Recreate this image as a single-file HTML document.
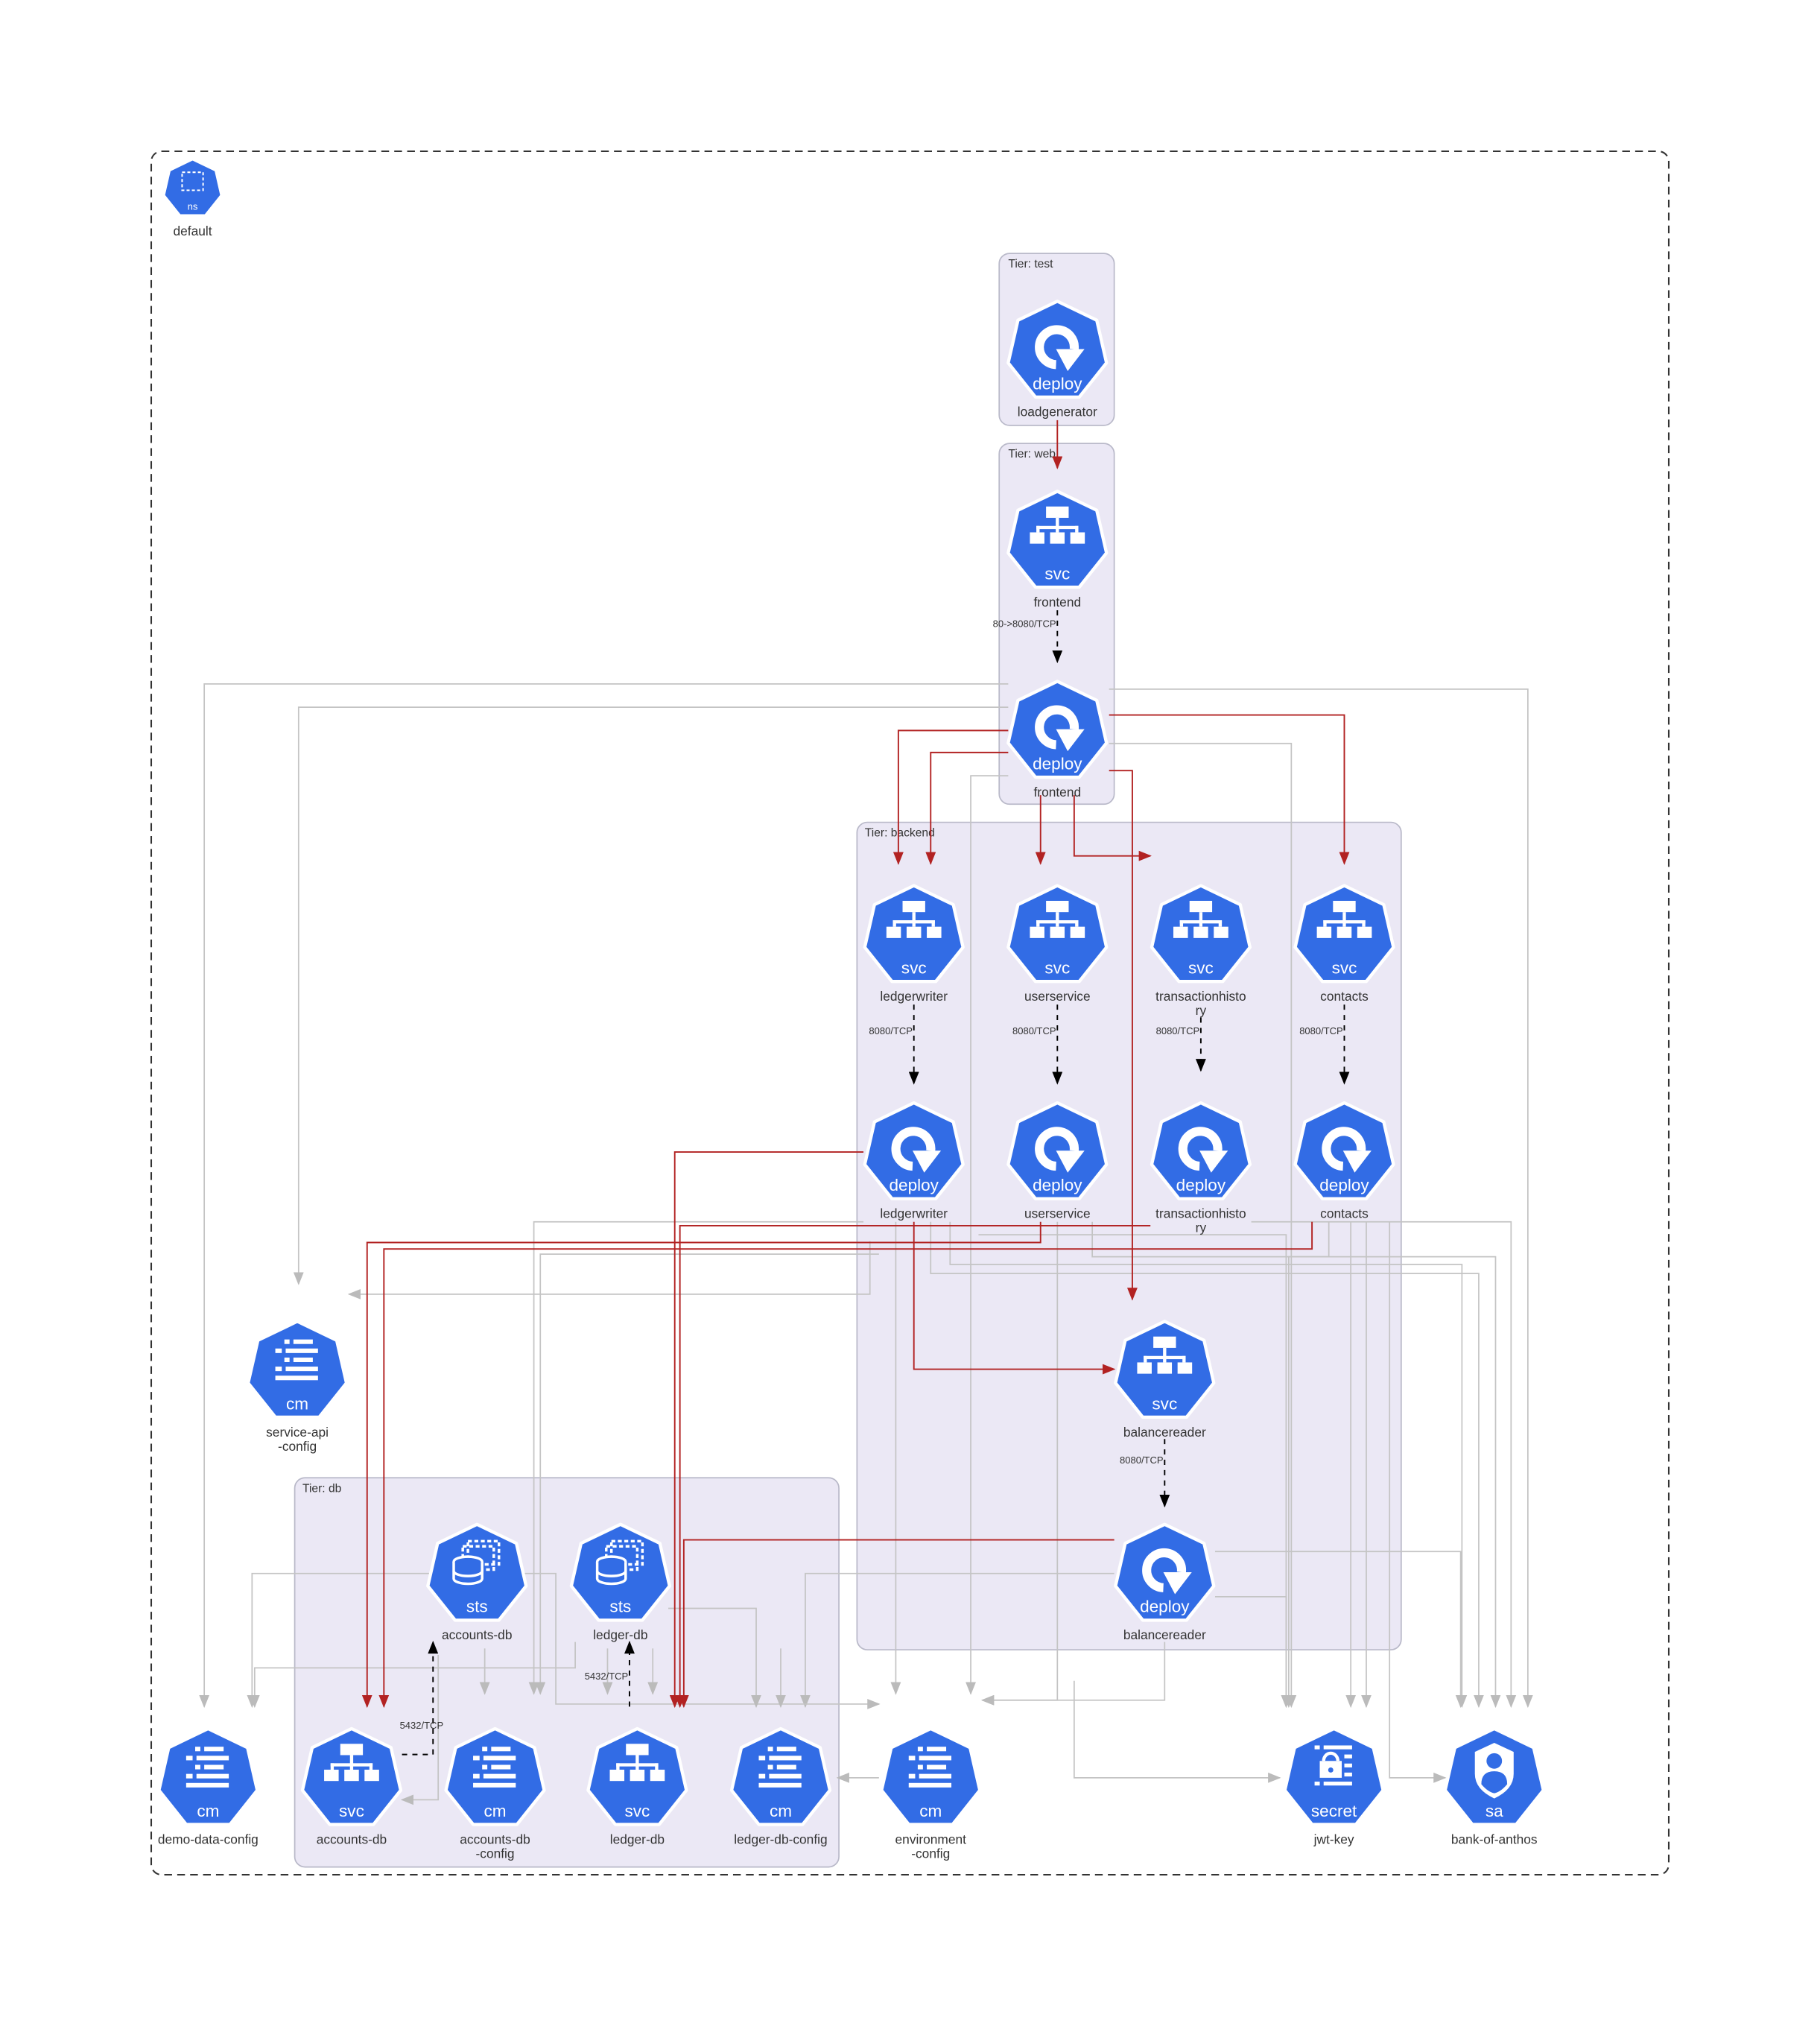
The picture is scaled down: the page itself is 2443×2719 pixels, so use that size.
<!DOCTYPE html>
<html><head><meta charset="utf-8"><style>
html,body{margin:0;padding:0;background:#fff}
svg{display:block}
text{font-family:"Liberation Sans",sans-serif}
</style></head><body>
<svg width="2443" height="2719" viewBox="0 0 1408 1567" preserveAspectRatio="none" xmlns="http://www.w3.org/2000/svg">
<defs>
<polygon id="hep" points="0,-39 30.49,-24.32 38.02,8.68 16.92,35.14 -16.92,35.14 -38.02,8.68 -30.49,-24.32" fill="#326ce5" stroke="#fff" stroke-width="2.5" stroke-linejoin="round"/>
<marker id="ag" markerWidth="10" markerHeight="8" refX="9" refY="4" orient="auto" markerUnits="userSpaceOnUse"><path d="M0,0L10,4L0,8z" fill="#bbb"/></marker>
<marker id="ar" markerWidth="10" markerHeight="8" refX="9" refY="4" orient="auto" markerUnits="userSpaceOnUse"><path d="M0,0L10,4L0,8z" fill="#b22222"/></marker>
<marker id="ab" markerWidth="10" markerHeight="8" refX="9" refY="4" orient="auto" markerUnits="userSpaceOnUse"><path d="M0,0L10,4L0,8z" fill="#000"/></marker>
<g id="deploy"><use href="#hep"/><path d="M-1,10 A13.5,13.5 0 1 1 13,-2" fill="none" stroke="#fff" stroke-width="7"/><path d="M3,-1 L25,-1 L12,16z" fill="#fff" transform="translate(-4,-1)"/><text x="0" y="29" font-size="13" fill="#fff" text-anchor="middle">deploy</text></g>
<g id="svc"><use href="#hep"/><g fill="#fff" transform="translate(0,-6) scale(1.25)"><rect x="-7" y="-17" width="14" height="7"/><rect x="-1" y="-10" width="2" height="6"/><rect x="-13" y="-5" width="26" height="2"/><rect x="-13" y="-5" width="2" height="4"/><rect x="11" y="-5" width="2" height="4"/><rect x="-1" y="-5" width="2" height="4"/><rect x="-17" y="-1" width="9" height="7"/><rect x="-4.5" y="-1" width="9" height="7"/><rect x="8" y="-1" width="9" height="7"/></g><text x="0" y="29" font-size="13" fill="#fff" text-anchor="middle">svc</text></g>
<g id="cm"><use href="#hep"/><g fill="#fff"><rect x="-10" y="-25" width="4" height="3.5"/><rect x="-3" y="-25" width="15" height="3.5"/><rect x="-17" y="-18" width="5" height="3.5"/><rect x="-9" y="-18" width="25" height="3.5"/><rect x="-10" y="-11" width="4" height="3.5"/><rect x="-3" y="-11" width="15" height="3.5"/><rect x="-17" y="-4" width="5" height="3.5"/><rect x="-9" y="-4" width="25" height="3.5"/><rect x="-17" y="3" width="33" height="3.5"/></g><text x="0" y="29" font-size="13" fill="#fff" text-anchor="middle">cm</text></g>
<g id="sts"><use href="#hep"/><g fill="none" stroke="#fff" stroke-width="2"><rect x="-7" y="-26" width="24" height="18" stroke-dasharray="3 2"/><rect x="-11" y="-22" width="24" height="18" stroke-dasharray="3 2"/><ellipse cx="-7" cy="-10" rx="11" ry="4" fill="#326ce5"/><path d="M-18,-10 v13 a11,4 0 0 0 22,0 v-13" fill="#326ce5"/><path d="M-18,-3 a11,4 0 0 0 22,0"/></g><text x="0" y="29" font-size="13" fill="#fff" text-anchor="middle">sts</text></g>
<g id="secret"><use href="#hep"/><g fill="#fff"><rect x="-15" y="-26" width="4" height="3"/><rect x="-8" y="-26" width="22" height="3"/><rect x="8" y="-19" width="6" height="3"/><rect x="8" y="-12" width="6" height="3"/><rect x="8" y="-5" width="6" height="3"/><rect x="-15" y="2" width="4" height="3"/><rect x="-8" y="2" width="22" height="3"/><rect x="-11" y="-14" width="17" height="13"/></g><path d="M-8,-14 a5.5,6 0 0 1 11,0" fill="none" stroke="#fff" stroke-width="2.5"/><circle cx="-2.5" cy="-7" r="2" fill="#326ce5"/><text x="0" y="29" font-size="13" fill="#fff" text-anchor="middle">secret</text></g>
<g id="sa"><use href="#hep"/><path d="M0,-28 L15,-21 L15,-4 Q15,8 0,15 Q-15,8 -15,-4 L-15,-21z" fill="#fff"/><circle cx="0" cy="-14" r="6" fill="#326ce5"/><path d="M-10,4 Q-10,-6 0,-6 Q10,-6 10,4 Q5,10 0,11 Q-5,10 -10,4z" fill="#326ce5"/><text x="0" y="29" font-size="13" fill="#fff" text-anchor="middle">sa</text></g>
</defs>

<rect x="117" y="117" width="1174" height="1333" rx="8" fill="none" stroke="#333" stroke-width="1.2" stroke-dasharray="6 4"/>
<g fill="#ebe8f5" stroke="#b9b9c9" stroke-width="1">
<rect x="773" y="196" width="89" height="133" rx="8"/>
<rect x="773" y="343" width="89" height="279" rx="8"/>
<rect x="663" y="636" width="421" height="640" rx="8"/>
<rect x="228" y="1143" width="421" height="301" rx="8"/>
</g>
<g font-size="9" fill="#333">
<text x="780" y="207">Tier: test</text>
<text x="780" y="354">Tier: web</text>
<text x="669" y="647">Tier: backend</text>
<text x="234" y="1154">Tier: db</text>
</g>

<g fill="none" stroke="#c4c4c4" stroke-width="1" marker-end="url(#ag)">
<path d="M780,529 H158 V1320"/>
<path d="M780,547 H231 V993"/>
<path d="M858,533 H1182 V1320"/>
<path d="M858,575 H999 V1320"/>
<path d="M780,600 H751 V1310"/>
<path d="M673,960 V1001 H270"/>
<path d="M668,945 H413 V1310"/>
<path d="M680,970 H418 V1310"/>
<path d="M693,945 V1310"/>
<path d="M720,945 V985 H1144 V1320"/>
<path d="M735,945 V978 H1131 V1320"/>
<path d="M845,945 V972 H1157 V1320"/>
<path d="M968,945 H1169 V1320"/>
<path d="M1028,945 V972 H997 V1320"/>
<path d="M1045,945 V1320"/>
<path d="M1057,945 V1320"/>
<path d="M818,945 V1315 H760"/>
<path d="M757,955 H995 V1320"/>
<path d="M940,1200 H1130 V1320"/>
<path d="M940,1235 H995 V1320"/>
<path d="M901,1270 V1315 H760"/>
<path d="M862,1217 H623 V1320"/>
<path d="M332,1217 H195 V1320"/>
<path d="M406,1217 H430 V1318 H680"/>
<path d="M375,1275 V1310"/>
<path d="M517,1244 H585 V1320"/>
<path d="M445,1270 V1290 H197 V1320"/>
<path d="M470,1275 V1310"/>
<path d="M505,1275 V1310"/>
<path d="M604,1275 V1320"/>
<path d="M831,1300 V1375 H990"/>
<path d="M1075,945 V1375 H1118"/>
<path d="M680,1375 H648"/>
<path d="M339,1280 V1392 H311"/>
</g>

<g fill="none" stroke="#b22222" stroke-width="1.1" marker-end="url(#ar)">
<path d="M818,325 V362"/>
<path d="M780,565 H695 V668"/>
<path d="M780,582 H720 V668"/>
<path d="M805,615 V668"/>
<path d="M831,615 V662 H890"/>
<path d="M858,553 H1040 V668"/>
<path d="M858,596 H876 V1005"/>
<path d="M668,891 H522 V1320"/>
<path d="M707,945 V1059 H862"/>
<path d="M805,945 V961 H284 V1320"/>
<path d="M1015,945 V966 H297 V1320"/>
<path d="M890,948 H526 V1320"/>
<path d="M862,1191 H529 V1320"/>
</g>

<g fill="none" stroke="#000" stroke-width="1.1" stroke-dasharray="4 4" marker-end="url(#ab)">
<path d="M818,472 V512"/>
<path d="M707,777 V838"/>
<path d="M818,777 V838"/>
<path d="M929,787 V828"/>
<path d="M1040,777 V838"/>
<path d="M901,1113 V1165"/>
<path d="M311,1357 H335 V1270"/>
<path d="M487,1320 V1270"/>
</g>
<g font-size="7.5" fill="#333" text-anchor="end">
<text x="817" y="485">80-&gt;8080/TCP</text>
<text x="706" y="800">8080/TCP</text>
<text x="817" y="800">8080/TCP</text>
<text x="928" y="800">8080/TCP</text>
<text x="1039" y="800">8080/TCP</text>
<text x="900" y="1132">8080/TCP</text>
<text x="343" y="1337">5432/TCP</text>
<text x="486" y="1299">5432/TCP</text>
</g>

<g transform="translate(149,146) scale(0.58)"><use href="#hep"/><rect x="-14" y="-22" width="28" height="24" fill="none" stroke="#fff" stroke-width="2" stroke-dasharray="4 3"/><text x="0" y="28" font-size="13" fill="#fff" text-anchor="middle">ns</text></g>

<use href="#deploy" x="818" y="272"/>
<use href="#svc" x="818" y="419"/>
<use href="#deploy" x="818" y="566"/>
<use href="#svc" x="707" y="724"/>
<use href="#svc" x="818" y="724"/>
<use href="#svc" x="929" y="724"/>
<use href="#svc" x="1040" y="724"/>
<use href="#deploy" x="707" y="892"/>
<use href="#deploy" x="818" y="892"/>
<use href="#deploy" x="929" y="892"/>
<use href="#deploy" x="1040" y="892"/>
<use href="#svc" x="901" y="1061"/>
<use href="#deploy" x="901" y="1218"/>
<use href="#cm" x="230" y="1061"/>
<use href="#sts" x="369" y="1218"/>
<use href="#sts" x="480" y="1218"/>
<use href="#cm" x="161" y="1376"/>
<use href="#svc" x="272" y="1376"/>
<use href="#cm" x="383" y="1376"/>
<use href="#svc" x="493" y="1376"/>
<use href="#cm" x="604" y="1376"/>
<use href="#cm" x="720" y="1376"/>
<use href="#secret" x="1032" y="1376"/>
<use href="#sa" x="1156" y="1376"/>

<g font-size="10" fill="#333" text-anchor="middle">
<text x="149" y="182">default</text>
<text x="818" y="322">loadgenerator</text>
<text x="818" y="469">frontend</text>
<text x="818" y="616">frontend</text>
<text x="707" y="774">ledgerwriter</text>
<text x="818" y="774">userservice</text>
<text x="929" y="774">transactionhisto</text><text x="929" y="785">ry</text>
<text x="1040" y="774">contacts</text>
<text x="707" y="942">ledgerwriter</text>
<text x="818" y="942">userservice</text>
<text x="929" y="942">transactionhisto</text><text x="929" y="953">ry</text>
<text x="1040" y="942">contacts</text>
<text x="901" y="1111">balancereader</text>
<text x="901" y="1268">balancereader</text>
<text x="230" y="1111">service-api</text><text x="230" y="1122">-config</text>
<text x="369" y="1268">accounts-db</text>
<text x="480" y="1268">ledger-db</text>
<text x="161" y="1426">demo-data-config</text>
<text x="272" y="1426">accounts-db</text>
<text x="383" y="1426">accounts-db</text><text x="383" y="1437">-config</text>
<text x="493" y="1426">ledger-db</text>
<text x="604" y="1426">ledger-db-config</text>
<text x="720" y="1426">environment</text><text x="720" y="1437">-config</text>
<text x="1032" y="1426">jwt-key</text>
<text x="1156" y="1426">bank-of-anthos</text>
</g>
</svg>
</body></html>
